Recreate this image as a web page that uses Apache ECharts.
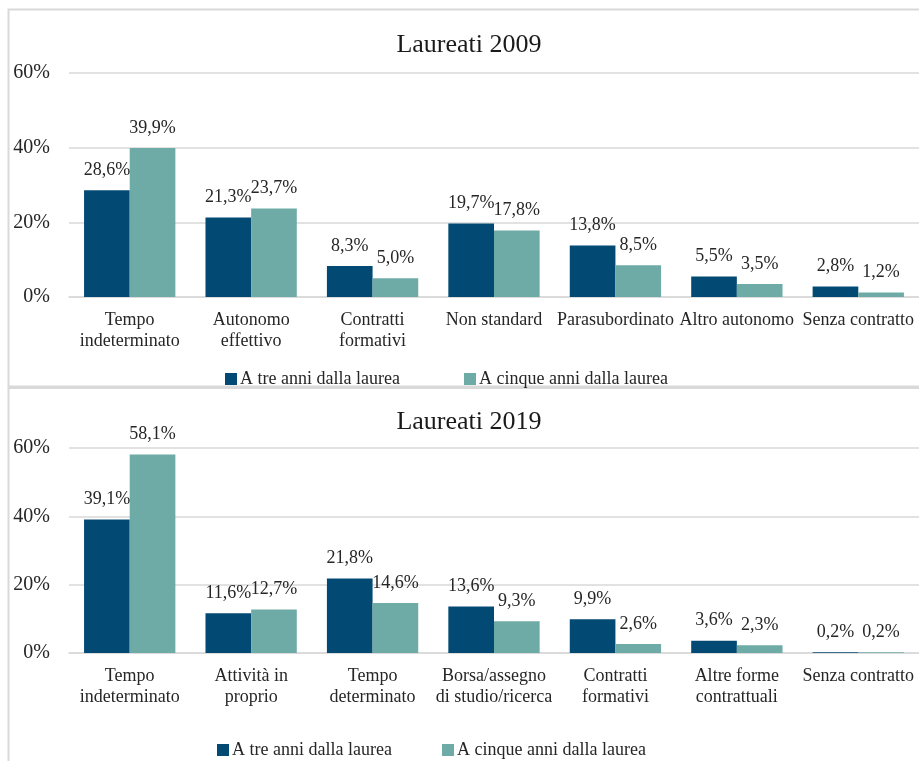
<!DOCTYPE html>
<html>
<head>
<meta charset="utf-8">
<script src="https://cdn.jsdelivr.net/npm/echarts@6/dist/echarts.min.js"></script>
<style>
  html, body { margin: 0; padding: 0; background: #fff; }
  #chart { width: 919px; height: 761px; }
</style>
</head>
<body>
<div id="chart"></div>
<script>
const seriesNames = ['A tre anni dalla laurea', 'A cinque anni dalla laurea'];
const yTicks = [0, 20, 40, 60];

const cats2009 = ['Tempo\nindeterminato', 'Autonomo\neffettivo', 'Contratti\nformativi', 'Non standard', 'Parasubordinato', 'Altro autonomo', 'Senza contratto'];
const tre2009 = [28.6, 21.3, 8.3, 19.7, 13.8, 5.5, 2.8];
const cinque2009 = [39.9, 23.7, 5.0, 17.8, 8.5, 3.5, 1.2];

const cats2019 = ['Tempo\nindeterminato', 'Attività in\nproprio', 'Tempo\ndeterminato', 'Borsa/assegno\ndi studio/ricerca', 'Contratti\nformativi', 'Altre forme\ncontrattuali', 'Senza contratto'];
const tre2019 = [39.1, 11.6, 21.8, 13.6, 9.9, 3.6, 0.2];
const cinque2019 = [58.1, 12.7, 14.6, 9.3, 2.6, 2.3, 0.2];

const FONT = 'Liberation Serif';
const TXT = '#262626';
const DARK = '#024A74';
const TEAL = '#6EABA6';
const GRIDC = '#d9d9d9';

const pct = v => v.toFixed(1).replace('.', ',') + '%';

function xAx(idx, cats) {
  return {
    type: 'category', gridIndex: idx, data: cats,
    axisLine: { lineStyle: { color: GRIDC, width: 1.5 } },
    axisTick: { show: false },
    axisLabel: { interval: 0, hideOverlap: false, margin: 13, color: TXT, fontFamily: FONT, fontSize: 18, lineHeight: 21 }
  };
}
function yAx(idx) {
  return {
    type: 'value', gridIndex: idx, min: yTicks[0], max: yTicks[yTicks.length - 1], interval: 20,
    axisLine: { show: false }, axisTick: { show: false },
    splitLine: { lineStyle: { color: GRIDC, width: 1.5 } },
    axisLabel: { formatter: '{value}%', margin: 19, color: TXT, fontFamily: FONT, fontSize: 20 }
  };
}
function bar(idx, name, data, color) {
  return {
    type: 'bar', name: name, xAxisIndex: idx, yAxisIndex: idx, data: data,
    barGap: '0%', barCategoryGap: '24.8%',
    itemStyle: { color: color },
    label: { show: true, position: 'top', distance: 11, formatter: p => pct(p.value), color: TXT, fontFamily: FONT, fontSize: 18 }
  };
}
function leg(name, left, top) {
  return {
    data: [name], left: left, top: top, itemWidth: 12, itemHeight: 12, icon: 'rect', itemGap: 4,
    textStyle: { color: TXT, fontFamily: FONT, fontSize: 18, padding: [0, 0, 0, -2] }
  };
}

const chart = echarts.init(document.getElementById('chart'));
chart.setOption({
  animation: false,
  grid: [
    { left: 69, width: 856, top: 73, height: 224 },
    { left: 69, width: 856, top: 448, height: 205 }
  ],
  xAxis: [xAx(0, cats2009), xAx(1, cats2019)],
  yAxis: [yAx(0), yAx(1)],
  legend: [
    leg(seriesNames[0], 220, 365),
    leg(seriesNames[1], 459, 365),
    leg(seriesNames[0], 212, 736),
    leg(seriesNames[1], 437, 736)
  ],
  series: [
    bar(0, seriesNames[0], tre2009, DARK),
    bar(0, seriesNames[1], cinque2009, TEAL),
    bar(1, seriesNames[0], tre2019, DARK),
    bar(1, seriesNames[1], cinque2019, TEAL)
  ],
  graphic: [
    { type: 'rect', shape: { x: 8.5, y: 9.5, width: 940, height: 377 }, style: { fill: 'none', stroke: GRIDC, lineWidth: 2 }, silent: true },
    { type: 'rect', shape: { x: 8.5, y: 388, width: 940, height: 400 }, style: { fill: 'none', stroke: GRIDC, lineWidth: 2 }, silent: true },
    { type: 'text', style: { text: '2022 e 2024.', x: 10, y: 4, textVerticalAlign: 'bottom', fill: '#7f7f7f', font: '18px "' + FONT + '"' } },
    { type: 'text', style: { text: 'Laureati 2009', x: 469, y: 45, textAlign: 'center', textVerticalAlign: 'middle', fill: '#1a1a1a', font: '26px "' + FONT + '"' } },
    { type: 'text', style: { text: 'Laureati 2019', x: 469, y: 422, textAlign: 'center', textVerticalAlign: 'middle', fill: '#1a1a1a', font: '26px "' + FONT + '"' } }
  ]
});
</script>
</body>
</html>
